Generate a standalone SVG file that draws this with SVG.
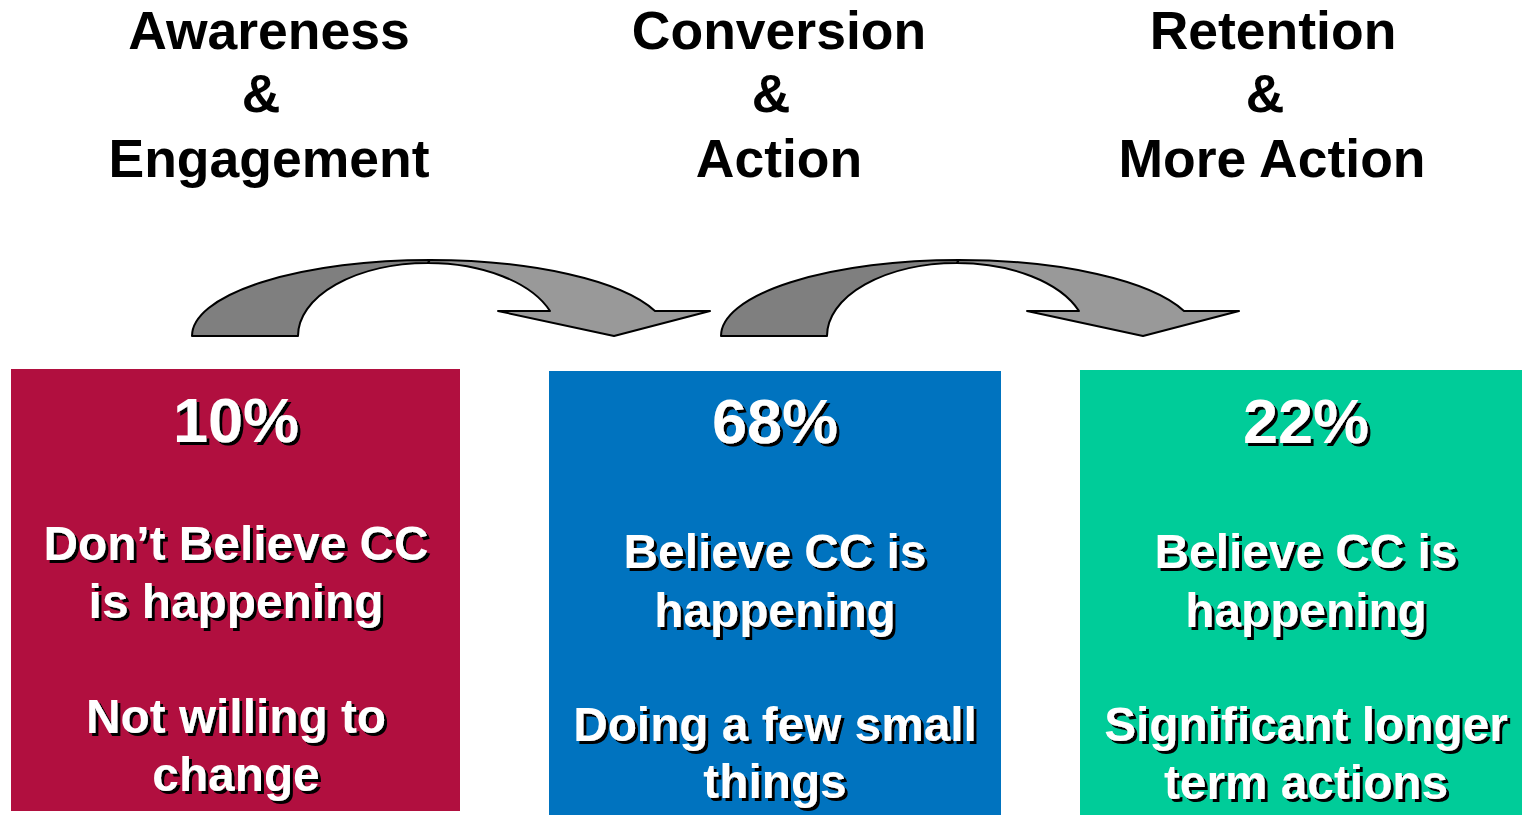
<svg xmlns="http://www.w3.org/2000/svg" width="1522" height="815" viewBox="0 0 1522 815">
<style>
.hdr{font-family:"Liberation Sans",Arial,Helvetica,sans-serif;font-weight:bold;font-size:53.5px;fill:#000;text-anchor:middle}
.pct{font-family:"Liberation Sans",Arial,Helvetica,sans-serif;font-weight:bold;font-size:63px;fill:#fff;text-anchor:middle;filter:url(#sh)}
.txt{font-family:"Liberation Sans",Arial,Helvetica,sans-serif;font-weight:bold;font-size:47.8px;fill:#fff;text-anchor:middle;filter:url(#sh)}
.dark{fill:#7f7f7f;stroke:#000;stroke-width:2;stroke-linejoin:round}
.light{fill:#999999;stroke:#000;stroke-width:2;stroke-linejoin:round}
</style>
<defs>
<filter id="sh" x="-10%" y="-20%" width="120%" height="140%">
<feOffset in="SourceAlpha" dx="2.5" dy="2.5" result="o"/>
<feMerge><feMergeNode in="o"/><feMergeNode in="SourceGraphic"/></feMerge>
</filter>
<g id="curve">
<path class="dark" d="M192,336 A238,76 0 0 1 430,260 L428,263 A130,73 0 0 0 298,336 Z"/>
<path class="light" d="M430,260 A238,76 0 0 1 655,311 L710,311 L614,336 L498,311 L550,311 A130,73 0 0 0 428,263 Z"/>
</g>
</defs>
<rect width="1522" height="815" fill="#fff"/>
<g id="headers">
<text class="hdr" x="269" y="49">Awareness</text>
<text class="hdr" x="261" y="112">&amp;</text>
<text class="hdr" x="269" y="177">Engagement</text>
<text class="hdr" x="779" y="49">Conversion</text>
<text class="hdr" x="771" y="112">&amp;</text>
<text class="hdr" x="779" y="177">Action</text>
<text class="hdr" x="1273" y="49">Retention</text>
<text class="hdr" x="1265" y="112">&amp;</text>
<text class="hdr" x="1272" y="177">More Action</text>
</g>
<g id="connectors">
<use href="#curve"/>
<use href="#curve" transform="translate(529,0)"/>
</g>
<g id="node-awareness">
<rect x="11" y="369" width="449" height="442" fill="#B10F3F"/>
<text class="pct" x="236" y="442">10%</text>
<text class="txt" x="236" y="560">Don’t Believe CC</text>
<text class="txt" x="236" y="618">is happening</text>
<text class="txt" x="236" y="733">Not willing to</text>
<text class="txt" x="236" y="791">change</text>
</g>
<g id="node-conversion">
<rect x="549" y="371" width="452" height="444" fill="#0073BF"/>
<text class="pct" x="775" y="443">68%</text>
<text class="txt" x="775" y="568">Believe CC is</text>
<text class="txt" x="775" y="627">happening</text>
<text class="txt" x="775" y="741">Doing a few small</text>
<text class="txt" x="775" y="798">things</text>
</g>
<g id="node-retention">
<rect x="1080" y="370" width="442" height="445" fill="#00CC99"/>
<text class="pct" x="1306" y="443">22%</text>
<text class="txt" x="1306" y="568">Believe CC is</text>
<text class="txt" x="1306" y="627">happening</text>
<text class="txt" x="1306" y="741">Significant longer</text>
<text class="txt" x="1306" y="799">term actions</text>
</g>
</svg>
